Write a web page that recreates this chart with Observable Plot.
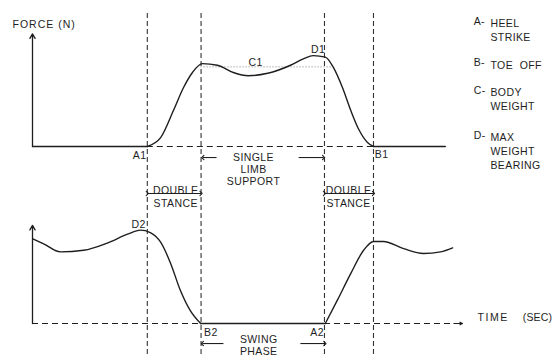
<!DOCTYPE html>
<html><head><meta charset="utf-8">
<script src="https://cdn.jsdelivr.net/npm/d3@7"></script>
<script src="https://cdn.jsdelivr.net/npm/@observablehq/plot@0.6"></script>
<style>body{margin:0;background:#fff}</style>
</head><body><div id="chart"></div>
<script>
// ---- data (time in arbitrary units, force in body-weight units) ----
const topTime  = [0, 26.7, 29.8, 32.8, 35.1, 37.2, 39.5, 43.0, 46.7, 50.2, 54.7, 60.0, 63.0, 65.3, 68.1, 70.0, 72.1, 74.0, 75.8, 77.9, 79.3, 96.0];
const topForce = [0, 0,    0.11, 0.45, 0.73, 0.92, 1.03, 1.01, 0.92, 0.88, 0.91, 1.01, 1.09, 1.13, 1.11, 0.98, 0.73, 0.45, 0.22, 0.05, 0,    0];
const bottomTime  = [0.2, 2.6, 6.5, 11.9, 17.4, 22.1, 25.1, 27.4, 29.8, 32.1, 34.4, 36.7, 39.1, 68.1, 70.9, 74.0, 77.0, 79.3, 81.6, 86.3, 90.9, 94.9, 97.7];
const bottomForce = [1.05, 0.99, 0.89, 0.91, 1.00, 1.11, 1.16, 1.13, 1.01, 0.75, 0.41, 0.16, 0,   0,    0.29, 0.62, 0.91, 1.02, 1.02, 0.93, 0.87, 0.89, 0.94];
const eventTimes = [26.7, 39.2, 67.9, 79.3];
const bodyWeight = 0.99;
const bodyWeightEnd = 69.8;
const topAxisMax = 1.40;
const bottomAxisMax = 1.22;
const timeAxisEnd = 100;

const pointLabels = ["A1", "B1", "C1", "D1", "D2", "B2", "A2"];
const pointTime   = [24.9, 81.2, 51.9, 66.4, 24.7, 41.5, 66.2];
const pointForce  = [-0.11, -0.10, 1.044, 1.20, 1.227, -0.108, -0.108];
const pointPanel  = ["top", "top", "top", "top", "bottom", "bottom", "bottom"];

const phaseLabels = ["SINGLE\nLIMB\nSUPPORT", "DOUBLE\nSTANCE", "DOUBLE\nSTANCE", "SWING\nPHASE"];
const phaseTime   = [51.4, 33.3, 73.5, 52.6];
const phaseForce  = [-0.066, 1.724, 1.724, -0.140];
const phasePanel  = ["top", "bottom", "bottom", "bottom"];

const axisTitles = ["FORCE (N)", "TIME", "(SEC)"];
const axisTitleTime  = [-4.65, 103.5, 114.0];
const axisTitleForce = [1.516, 0.075, 0.075];
const axisTitlePanel = ["top", "bottom", "bottom"];

const legendKeys = ["A-", "B-", "C-", "D-"];
const legendText = ["HEEL\nSTRIKE", "TOE  OFF", "BODY\nWEIGHT", "MAX\nWEIGHT\nBEARING"];
const legendLevel = [3.804, 3.289, 2.947, 2.387];

// ---- layout ----
const OFF = 2.2; // vertical offset of the upper panel (force units)
const ink = "#1e1e1e";
const Y = (f, panel) => f + (panel === "top" ? OFF : 0);

// split a trace into flat (zero force) and curved runs so kinks stay sharp
function segments(times, forces, panel, prefix) {
  const rows = [];
  let id = 0, prevType = null;
  for (let i = 0; i < times.length - 1; i++) {
    const type = forces[i] === 0 && forces[i + 1] === 0 ? "flat" : "curve";
    if (type !== prevType) {
      id++;
      rows.push({t: times[i], y: Y(forces[i], panel), z: prefix + id});
      prevType = type;
    }
    rows.push({t: times[i + 1], y: Y(forces[i + 1], panel), z: prefix + id});
  }
  return rows;
}
const topRows = segments(topTime, topForce, "top", "t");
const botRows = segments(bottomTime, bottomForce, "bottom", "b");
const pointRows = pointLabels.map((s, i) => ({s, t: pointTime[i], y: Y(pointForce[i], pointPanel[i])}));
const phaseRows = phaseLabels.map((s, i) => ({s, t: phaseTime[i], y: Y(phaseForce[i], phasePanel[i])}));
const titleRows = axisTitles.map((s, i) => ({s, t: axisTitleTime[i], y: Y(axisTitleForce[i], axisTitlePanel[i])}));
const legendRows = legendKeys.map((k, i) => ({k, s: legendText[i], y: legendLevel[i]}));

const singleArrows = [
  {x1: 42.8, x2: 39.6, y: Y(-0.137, "top")},
  {x1: 61.9, x2: 67.7, y: Y(-0.137, "top")},
  {x1: 44.4, x2: 39.5, y: Y(-0.249, "bottom")},
  {x1: 62.3, x2: 68.0, y: Y(-0.249, "bottom")}
];
const doubleArrows = [
  {x1: eventTimes[0], x2: eventTimes[1], y: Y(1.616, "bottom")},
  {x1: eventTimes[2], x2: eventTimes[3], y: Y(1.616, "bottom")}
];

const dashed = {stroke: ink, strokeWidth: 1.1, strokeDasharray: "6,4"};

const chart = Plot.plot({
  width: 555, height: 357,
  marginTop: 13, marginBottom: 0, marginLeft: 0, marginRight: 0,
  x: {domain: [0, 100], range: [32, 462], axis: null},
  y: {domain: [0, OFF], range: [323, 146], axis: null},
  style: {fontFamily: "'Liberation Sans', Arial, sans-serif", fontSize: "10.5px", letterSpacing: "0.4px", background: "#fff", color: ink},
  marks: [
    Plot.ruleX(eventTimes, {stroke: ink, strokeWidth: 1.1, strokeDasharray: "5,3", strokeOpacity: 0.9}),
    Plot.ruleY([OFF], {x1: eventTimes[0], x2: eventTimes[3], ...dashed}),
    Plot.ruleY([OFF + bodyWeight], {x1: eventTimes[1], x2: bodyWeightEnd, stroke: ink, strokeWidth: 0.8, strokeDasharray: "1,2", strokeOpacity: 0.7}),
    Plot.ruleY([0], {x1: 0, x2: eventTimes[1], ...dashed}),
    Plot.ruleY([0], {x1: eventTimes[2], x2: timeAxisEnd - 2, ...dashed}),
    Plot.arrow([0], {x1: timeAxisEnd - 2, x2: timeAxisEnd, y1: 0, y2: 0, stroke: ink, strokeWidth: 1.1, headLength: 8, headAngle: 55}),
    Plot.arrow([0], {x1: 0, x2: 0, y1: OFF, y2: OFF + topAxisMax, stroke: ink, strokeWidth: 1.3, headLength: 6, headAngle: 60}),
    Plot.arrow([0], {x1: 0, x2: 0, y1: 0, y2: bottomAxisMax, stroke: ink, strokeWidth: 1.3, headLength: 6, headAngle: 60}),
    Plot.line(topRows, {x: "t", y: "y", z: "z", curve: "monotone-x", stroke: ink, strokeWidth: 1.4}),
    Plot.line(botRows, {x: "t", y: "y", z: "z", curve: "monotone-x", stroke: ink, strokeWidth: 1.4}),
    Plot.link(singleArrows, {x1: "x1", x2: "x2", y1: "y", y2: "y", stroke: ink, strokeWidth: 1.1, markerEnd: "arrow"}),
    Plot.link(doubleArrows, {x1: "x1", x2: "x2", y1: "y", y2: "y", stroke: ink, strokeWidth: 1.1, markerStart: "arrow", markerEnd: "arrow"}),
    Plot.text(pointRows, {x: "t", y: "y", text: "s", fill: ink}),
    Plot.text(phaseRows.slice(0, 1), {x: "t", y: "y", text: "s", fill: ink, lineAnchor: "top", lineHeight: 1.17}),
    Plot.text(phaseRows.slice(1, 3), {x: "t", y: "y", text: "s", fill: ink, lineAnchor: "top", lineHeight: 1.24}),
    Plot.text(phaseRows.slice(3), {x: "t", y: "y", text: "s", fill: ink, lineAnchor: "top", lineHeight: 1.14}),
    Plot.text(titleRows, {x: "t", y: "y", text: "s", textAnchor: "start", fill: ink}),
    Plot.text(legendRows, {x: 102.6, y: "y", text: "k", textAnchor: "start", lineAnchor: "top", fill: ink}),
    Plot.text(legendRows, {x: 106.5, y: "y", text: "s", textAnchor: "start", lineAnchor: "top", lineHeight: 1.33, fill: ink})
  ]
});

d3.select(chart).selectAll("text").each(function() {
  const t = this.textContent;
  if (t === "FORCE (N)") this.setAttribute("letter-spacing", "1px");
  if (t === "TIME") this.setAttribute("letter-spacing", "1.5px");
  if (t === "(SEC)") this.setAttribute("letter-spacing", "0.2px");
});
document.getElementById("chart").appendChild(chart);
</script>
</body></html>
